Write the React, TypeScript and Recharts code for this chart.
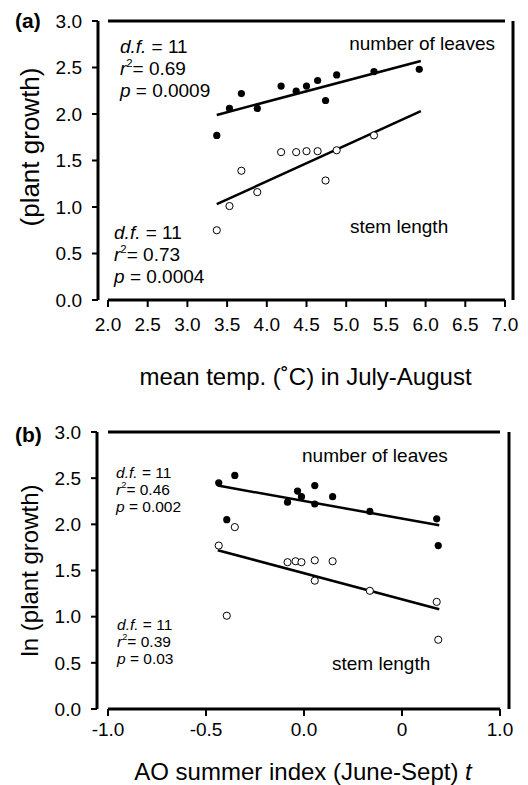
import React from 'react';
import { ScatterChart, Scatter, XAxis, YAxis, ReferenceLine, ReferenceDot } from 'recharts';

const FONT = '"Liberation Sans", Arial, Helvetica, sans-serif';

// ---------- shared ticks ----------
const yTicks = [0, 0.5, 1, 1.5, 2, 2.5, 3];

// ---------- panel (a): mean temperature ----------
const xTicksA = [2, 2.5, 3, 3.5, 4, 4.5, 5, 5.5, 6, 6.5, 7];
const leavesA = [
  { x: 3.37, y: 1.77 }, { x: 3.53, y: 2.06 }, { x: 3.68, y: 2.22 }, { x: 3.88, y: 2.06 },
  { x: 4.18, y: 2.3 }, { x: 4.37, y: 2.245 }, { x: 4.5, y: 2.3 }, { x: 4.64, y: 2.36 },
  { x: 4.74, y: 2.145 }, { x: 4.88, y: 2.42 }, { x: 5.35, y: 2.456 }, { x: 5.92, y: 2.48 },
];
const stemA = [
  { x: 3.37, y: 0.75 }, { x: 3.53, y: 1.01 }, { x: 3.68, y: 1.39 }, { x: 3.88, y: 1.16 },
  { x: 4.18, y: 1.59 }, { x: 4.37, y: 1.59 }, { x: 4.5, y: 1.6 }, { x: 4.64, y: 1.6 },
  { x: 4.74, y: 1.285 }, { x: 4.88, y: 1.61 }, { x: 5.35, y: 1.77 },
];
const fitLeavesA = [{ x: 3.37, y: 1.99 }, { x: 5.94, y: 2.57 }];
const fitStemA = [{ x: 3.37, y: 1.03 }, { x: 5.94, y: 2.03 }];
const notesA = [
  { x: 6.874, y: 2.688, text: 'number of leaves', anchor: 'end' },
  { x: 5.048, y: 0.72, text: 'stem length', anchor: 'start' },
];
const statsA = [
  { x: 2.15, y: 2.656, df: '11', r2: '0.69', p: '0.0009' },
  { x: 2.076, y: 0.656, df: '11', r2: '0.73', p: '0.0004' },
];

// ---------- panel (b): AO summer index ----------
const xTicksB = [-1, -0.5, 0, 0.5, 1];
const xTickLabelsB = ['-1.0', '-0.5', '0.0', '0', '1.0'];
const leavesB = [
  { x: -0.435, y: 2.45 }, { x: -0.394, y: 2.05 }, { x: -0.353, y: 2.53 }, { x: -0.084, y: 2.24 },
  { x: -0.033, y: 2.36 }, { x: -0.013, y: 2.3 }, { x: 0.055, y: 2.42 }, { x: 0.055, y: 2.22 },
  { x: 0.146, y: 2.3 }, { x: 0.336, y: 2.14 }, { x: 0.677, y: 2.06 }, { x: 0.685, y: 1.77 },
];
const stemB = [
  { x: -0.435, y: 1.77 }, { x: -0.394, y: 1.01 }, { x: -0.353, y: 1.97 }, { x: -0.084, y: 1.59 },
  { x: -0.043, y: 1.6 }, { x: -0.013, y: 1.59 }, { x: 0.055, y: 1.61 }, { x: 0.055, y: 1.39 },
  { x: 0.146, y: 1.6 }, { x: 0.336, y: 1.28 }, { x: 0.677, y: 1.16 }, { x: 0.685, y: 0.75 },
];
const fitLeavesB = [{ x: -0.44, y: 2.42 }, { x: 0.69, y: 1.99 }];
const fitStemB = [{ x: -0.44, y: 1.72 }, { x: 0.69, y: 1.08 }];
const notesB = [
  { x: -0.01, y: 2.675, text: 'number of leaves', anchor: 'start' },
  { x: 0.143, y: 0.422, text: 'stem length', anchor: 'start' },
];
const statsB = [
  { x: -0.959, y: 2.502, df: '11', r2: '0.46', p: '0.002' },
  { x: -0.954, y: 0.856, df: '11', r2: '0.39', p: '0.03' },
];

// ---------- label renderers ----------
function NoteText(props: any) {
  const { viewBox, text, anchor, fontSize } = props;
  return (
    <text x={viewBox.x} y={viewBox.y} textAnchor={anchor} fontSize={fontSize} fontFamily={FONT} fill="#000">
      {text}
    </text>
  );
}

function StatsText(props: any) {
  const { viewBox, stat, fontSize, gap } = props;
  const x = viewBox.x;
  const y = viewBox.y;
  const sup = fontSize * 0.42;
  return (
    <g fontSize={fontSize} fontFamily={FONT} fill="#000">
      <text x={x} y={y}>
        <tspan fontStyle="italic">d.f.</tspan>
        {' = ' + stat.df}
      </text>
      <text x={x} y={y + gap}>
        <tspan fontStyle="italic">r</tspan>
        <tspan dy={-sup} fontSize={fontSize * 0.6}>2</tspan>
        <tspan dy={sup}>{'= ' + stat.r2}</tspan>
      </text>
      <text x={x} y={y + 2 * gap}>
        <tspan fontStyle="italic">p</tspan>
        {' = ' + stat.p}
      </text>
    </g>
  );
}

function XTitle(props: any) {
  const { viewBox, text, italic, offset, fontSize } = props;
  const cx = viewBox.x + viewBox.width / 2;
  const by = viewBox.y + viewBox.height - offset;
  return (
    <text x={cx} y={by} textAnchor="middle" fontSize={fontSize} fontFamily={FONT} fill="#000">
      {text}
      {italic ? <tspan fontStyle="italic">{italic}</tspan> : null}
    </text>
  );
}

function YTitle(props: any) {
  const { viewBox, text, fontSize, shift, letter, letterDy } = props;
  const cx = viewBox.x + 30;
  const cy = viewBox.y + viewBox.height / 2 + shift;
  return (
    <g>
      <text
        x={cx}
        y={cy}
        dy="0.35em"
        transform={`rotate(-90 ${cx} ${cy})`}
        textAnchor="middle"
        fontSize={fontSize}
        fontFamily={FONT}
        fill="#000"
      >
        {text}
      </text>
      <text x={viewBox.x + 15} y={viewBox.y + letterDy} fontSize={21} fontWeight="bold" fontFamily={FONT} fill="#000">
        {letter}
      </text>
    </g>
  );
}

const filledDot = (p: any) => <circle cx={p.cx} cy={p.cy} r={3.6} fill="#000" />;
const openDot = (p: any) => <circle cx={p.cx} cy={p.cy} r={3.6} fill="#fff" stroke="#000" strokeWidth={1} />;

function Panel(props: any) {
  const c = props.cfg;
  const xt = c.xTicks;
  const top = yTicks[yTicks.length - 1];
  const bottom = yTicks[0];
  return (
    <ScatterChart width={528} height={c.height} margin={c.margin}>
      <XAxis
        type="number"
        dataKey="x"
        domain={[xt[0], xt[xt.length - 1]]}
        ticks={xt}
        interval={0}
        padding={c.xPadding}
        height={c.xAxisHeight}
        axisLine={false}
        tickSize={7}
        tickMargin={c.xTickMargin}
        tickLine={{ stroke: '#000', strokeWidth: 2 }}
        tick={{ fill: '#000', fontSize: 19, fontFamily: FONT }}
        tickFormatter={c.xFmt}
        label={<XTitle text={c.xTitle} italic={c.xItalic} offset={c.xTitleOffset} fontSize={24} />}
      />
      <YAxis
        yAxisId="main"
        type="number"
        dataKey="y"
        domain={[bottom, top]}
        ticks={yTicks}
        interval={0}
        width={c.yAxisWidth}
        tickSize={6}
        tickMargin={10}
        axisLine={{ stroke: '#000', strokeWidth: 3 }}
        tickLine={{ stroke: '#000', strokeWidth: 2 }}
        tick={{ fill: '#000', fontSize: 19, fontFamily: FONT }}
        tickFormatter={(v: number) => v.toFixed(1)}
        label={
          <YTitle text={c.yTitle} fontSize={c.yTitleSize} shift={c.yTitleShift} letter={c.letter} letterDy={c.letterDy} />
        }
      />
      <YAxis
        yAxisId="frame"
        orientation="right"
        type="number"
        domain={[bottom, top]}
        width={1}
        tick={false}
        tickLine={false}
        axisLine={{ stroke: '#000', strokeWidth: 3 }}
      />
      <ReferenceLine
        yAxisId="main"
        segment={[{ x: xt[0], y: top }, { x: xt[xt.length - 1], y: top }]}
        stroke="#000"
        strokeWidth={3}
      />
      <ReferenceLine
        yAxisId="main"
        segment={[{ x: xt[0], y: bottom }, { x: xt[xt.length - 1], y: bottom }]}
        stroke="#000"
        strokeWidth={3}
      />
      <ReferenceLine yAxisId="main" segment={c.fitLeaves} stroke="#000" strokeWidth={2.5} />
      <ReferenceLine yAxisId="main" segment={c.fitStem} stroke="#000" strokeWidth={2.5} />
      <Scatter yAxisId="main" data={c.leaves} shape={filledDot} isAnimationActive={false} />
      <Scatter yAxisId="main" data={c.stem} shape={openDot} isAnimationActive={false} />
      {c.notes.map((n: any, i: number) => (
        <ReferenceDot
          key={'n' + i}
          yAxisId="main"
          x={n.x}
          y={n.y}
          r={0}
          fill="none"
          stroke="none"
          label={<NoteText text={n.text} anchor={n.anchor} fontSize={c.noteSize} />}
        />
      ))}
      {c.stats.map((s: any, i: number) => (
        <ReferenceDot
          key={'s' + i}
          yAxisId="main"
          x={s.x}
          y={s.y}
          r={0}
          fill="none"
          stroke="none"
          label={<StatsText stat={s} fontSize={c.statSize} gap={c.statGap} />}
        />
      ))}
    </ScatterChart>
  );
}

const cfgA = {
  height: 390,
  margin: { top: 21, right: 14, bottom: 0, left: 0 },
  xTicks: xTicksA,
  xPadding: { left: 10, right: 8 },
  xAxisHeight: 90,
  xTickMargin: 11,
  xFmt: (v: number) => v.toFixed(1),
  xTitle: 'mean temp. (˚C) in July-August',
  xItalic: '',
  xTitleOffset: 15,
  yAxisWidth: 98,
  yTitle: '(plant growth)',
  yTitleSize: 26,
  yTitleShift: -13.5,
  letter: '(a)',
  letterDy: 7,
  leaves: leavesA,
  stem: stemA,
  fitLeaves: fitLeavesA,
  fitStem: fitStemA,
  notes: notesA,
  stats: statsA,
  noteSize: 19,
  statSize: 19,
  statGap: 22,
};

const cfgB = {
  height: 395,
  margin: { top: 42, right: 18, bottom: 0, left: 0 },
  xTicks: xTicksB,
  xPadding: { left: 11, right: 9 },
  xAxisHeight: 76,
  xTickMargin: 7,
  xFmt: (v: number) => xTickLabelsB[xTicksB.indexOf(v)],
  xTitle: 'AO summer index (June-Sept) ',
  xItalic: 't',
  xTitleOffset: 7,
  yAxisWidth: 97,
  yTitle: 'ln (plant growth)',
  yTitleSize: 24,
  yTitleShift: 0,
  letter: '(b)',
  letterDy: 10,
  leaves: leavesB,
  stem: stemB,
  fitLeaves: fitLeavesB,
  fitStem: fitStemB,
  notes: notesB,
  stats: statsB,
  noteSize: 19,
  statSize: 15.5,
  statGap: 17,
};

export default function App() {
  return (
    <div style={{ position: 'absolute', left: 0, top: 0, width: 528, height: 785, background: '#fff' }}>
      <div style={{ position: 'absolute', left: 0, top: 0 }}>
        <Panel cfg={cfgA} />
      </div>
      <div style={{ position: 'absolute', left: 0, top: 390 }}>
        <Panel cfg={cfgB} />
      </div>
    </div>
  );
}
